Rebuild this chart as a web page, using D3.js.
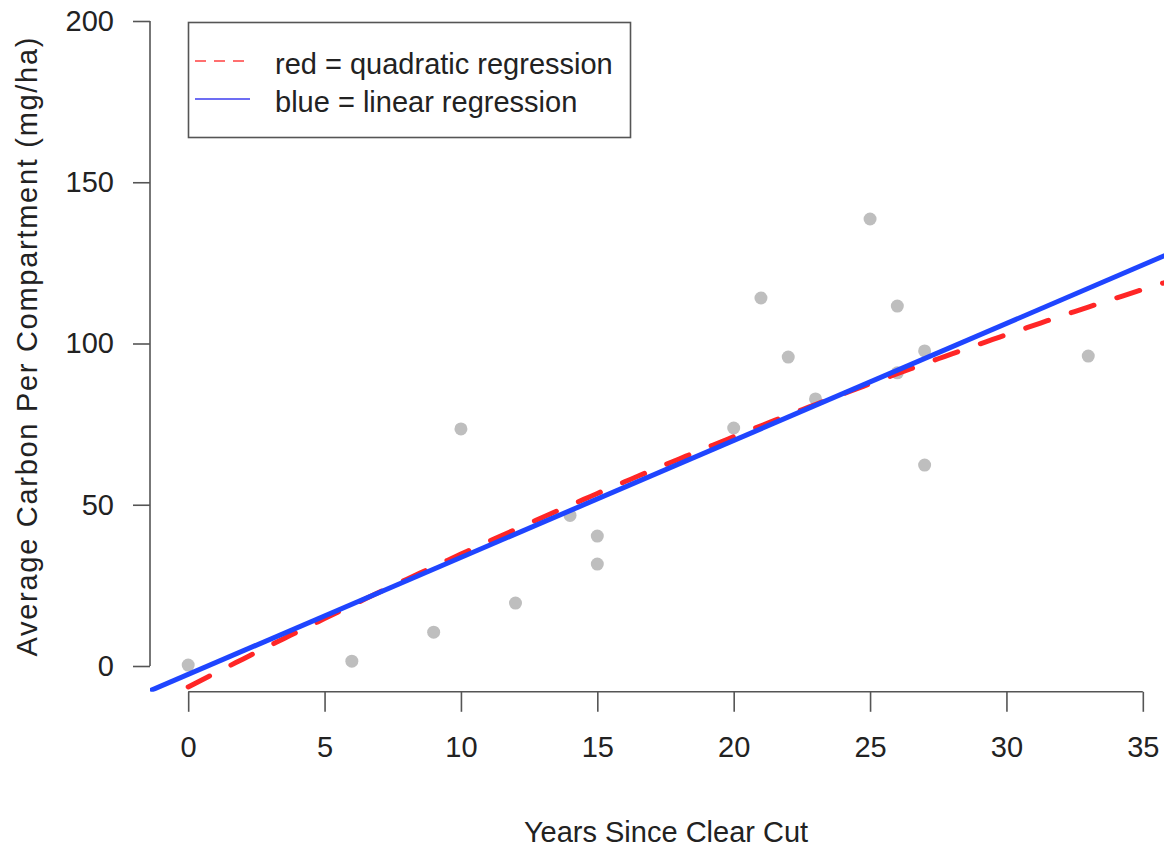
<!DOCTYPE html>
<html>
<head>
<meta charset="utf-8">
<script src="https://cdn.jsdelivr.net/npm/d3@7"></script>
<style>
    body { margin: 0; background: #fff; }
    svg { display: block; font-family: "Liberation Sans", Arial, sans-serif; }
    text { fill: #222; }
</style>
</head>
<body>
<div id="chart"></div>
<script>
const years = [0, 6, 9, 10, 12, 14, 15, 15, 20, 21, 22, 23, 25, 26, 26, 27, 27, 33];
const carbon = [0.3, 1.5, 10.5, 73.5, 19.5, 46.7, 40.3, 31.6, 73.8, 114.1, 95.8, 82.8, 138.6, 111.6, 90.9, 97.7, 62.3, 96.1];

// Fitted coefficients (intercept, x, x^2)
const linearFit = [-2.6, 3.627];
const quadFit = [-6.5, 4.358, -0.0239];

const xTicks = [0, 5, 10, 15, 20, 25, 30, 35];
const yTicks = [0, 50, 100, 150, 200];

const legendLabels = ['red = quadratic regression', 'blue = linear regression'];

const width = 1164;
const height = 848;
const fontSize = 29;

const svg = d3.select('#chart').append('svg')
    .attr('width', width)
    .attr('height', height);

// R style plot region: limits padded by 4%
const x = d3.scaleLinear().domain([-1.4, 36.4]).range([150, 1181]);
const y = d3.scaleLinear().domain([-8, 208]).range([691.8, -4.8]);

svg.append('defs').append('clipPath').attr('id', 'plotClip')
    .append('rect')
    .attr('x', x.range()[0])
    .attr('y', y.range()[1])
    .attr('width', x.range()[1] - x.range()[0])
    .attr('height', y.range()[0] - y.range()[1]);

// Points
svg.append('g')
    .selectAll('circle')
    .data(years)
    .enter().append('circle')
    .attr('cx', d => x(d))
    .attr('cy', (d, i) => y(carbon[i]))
    .attr('r', 6.5)
    .attr('fill', '#bebebe');

// Regression lines
const plotArea = svg.append('g').attr('clip-path', 'url(#plotClip)');

const linePath = d3.line().x(d => x(d[0])).y(d => y(d[1]));

const linPts = x.domain().map(v => [v, linearFit[0] + linearFit[1] * v]);
const quadPts = d3.range(0, 36.5, 0.25).map(v => [v, quadFit[0] + quadFit[1] * v + quadFit[2] * v * v]);

plotArea.append('path')
    .attr('d', linePath(quadPts))
    .attr('fill', 'none')
    .attr('stroke', '#ff2626')
    .attr('stroke-width', 5)
    .attr('stroke-linecap', 'round')
    .attr('stroke-dasharray', '24 24');

plotArea.append('path')
    .attr('d', linePath(linPts))
    .attr('fill', 'none')
    .attr('stroke', '#1f45ff')
    .attr('stroke-width', 5);

// X axis
const xAxis = svg.append('g')
    .attr('transform', `translate(0,${y.range()[0]})`)
    .call(d3.axisBottom(x).tickValues(xTicks).tickSize(20).tickSizeOuter(0).tickPadding(25));

xAxis.select('.domain').attr('d', `M${x(xTicks[0])},0H${x(xTicks[xTicks.length - 1])}`);

// Y axis
const yAxis = svg.append('g')
    .attr('transform', `translate(${x.range()[0]},0)`)
    .call(d3.axisLeft(y).tickValues(yTicks).tickSize(17).tickSizeOuter(0).tickPadding(19));

yAxis.select('.domain').attr('d', `M0,${y(yTicks[0])}V${y(yTicks[yTicks.length - 1])}`);

svg.selectAll('.tick line, .domain')
    .attr('stroke', '#555')
    .attr('stroke-width', 1.6);

svg.selectAll('.tick text')
    .attr('font-size', fontSize)
    .attr('font-family', '"Liberation Sans", Arial, sans-serif')
    .attr('fill', '#222');

// Axis titles
svg.append('text')
    .attr('x', 666)
    .attr('y', 842)
    .attr('text-anchor', 'middle')
    .attr('font-size', fontSize)
    .text('Years Since Clear Cut');

// the rotated title is spaced wider in the original
svg.append('text')
    .attr('transform', 'translate(37,347) rotate(-90)')
    .attr('text-anchor', 'middle')
    .attr('font-size', fontSize)
    .attr('textLength', 619)
    .attr('lengthAdjust', 'spacing')
    .text('Average Carbon Per Compartment (mg/ha)');

// Legend
const legend = svg.append('g');

legend.append('rect')
    .attr('x', 188.5)
    .attr('y', 22.5)
    .attr('width', 442)
    .attr('height', 115)
    .attr('fill', '#fff')
    .attr('stroke', '#555')
    .attr('stroke-width', 1.6);

const legendStyles = [
    { color: '#ff4b4b', dash: '11 8', y: 61, x2: 245 },
    { color: '#4848f0', dash: null, y: 99, x2: 250 }
];

legendLabels.forEach((label, i) => {
    const s = legendStyles[i];
    legend.append('line')
        .attr('x1', 195)
        .attr('x2', s.x2)
        .attr('y1', s.y)
        .attr('y2', s.y)
        .attr('stroke', s.color)
        .attr('stroke-width', 1.8)
        .attr('stroke-opacity', 0.8)
        .attr('stroke-dasharray', s.dash);

    legend.append('text')
        .attr('x', 275)
        .attr('y', s.y + 13)
        .attr('font-size', fontSize)
        .text(label);
});
</script>
</body>
</html>
